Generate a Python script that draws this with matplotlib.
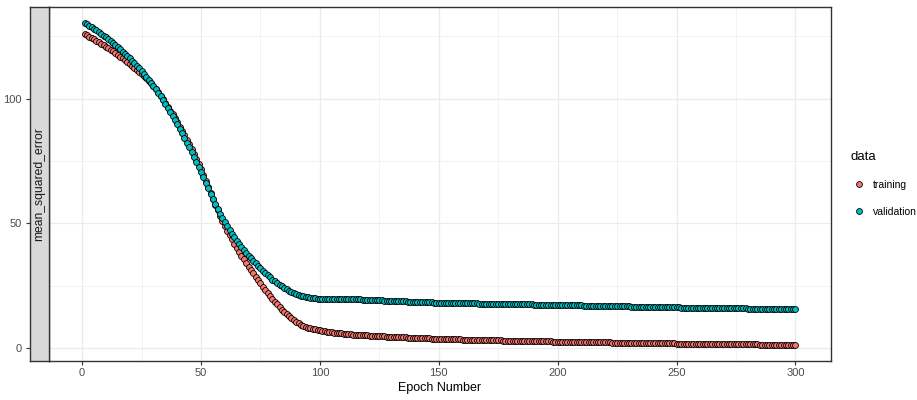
import numpy as np
import matplotlib.pyplot as plt
from matplotlib.lines import Line2D

plt.rcParams['font.family'] = ['Liberation Sans', 'DejaVu Sans']

# loss per epoch
epochs = np.arange(1, 301)

training = [
    125.85, 125.37, 124.9, 124.42, 123.95, 123.35, 122.75, 122.15, 121.55, 120.95,
    120.29, 119.63, 118.97, 118.31, 117.65, 116.91, 116.17, 115.43, 114.69, 113.95,
    113.17, 112.39, 111.61, 110.83, 110.05, 109.08, 108.12, 107.15, 106.15, 105.15,
    103.85, 102.55, 101.17, 99.78, 98.4, 96.83, 95.26, 93.69, 92.12, 90.55,
    88.78, 87.01, 85.24, 83.47, 81.7, 79.7, 77.7, 75.7, 73.65, 71.6,
    69.35, 67.05, 64.65, 62.25, 59.85, 57.5, 55.25, 53.05, 50.95, 48.9,
    47.05, 45.25, 43.5, 41.8, 40.15, 38.55, 37.0, 35.5, 34.05, 32.63,
    31.23, 29.85, 28.49, 27.15, 25.83, 24.53, 23.25, 22.0, 20.78, 19.6,
    18.48, 17.4, 16.36, 15.36, 14.41, 13.51, 12.66, 11.87, 11.14, 10.47,
    9.87, 9.34, 8.88, 8.48, 8.14, 7.85, 7.6, 7.38, 7.18, 7.0,
    6.84, 6.69, 6.54, 6.4, 6.26, 6.13, 6.0, 5.88, 5.76, 5.65,
    5.57, 5.49, 5.41, 5.34, 5.27, 5.2, 5.13, 5.07, 5.01, 4.95,
    4.9, 4.85, 4.8, 4.75, 4.71, 4.65, 4.6, 4.54, 4.49, 4.44,
    4.39, 4.34, 4.29, 4.24, 4.2, 4.15, 4.11, 4.07, 4.03, 3.99,
    3.95, 3.91, 3.87, 3.83, 3.8, 3.76, 3.73, 3.69, 3.66, 3.62,
    3.59, 3.56, 3.53, 3.5, 3.47, 3.44, 3.41, 3.39, 3.36, 3.33,
    3.3, 3.28, 3.25, 3.23, 3.2, 3.18, 3.15, 3.13, 3.11, 3.08,
    3.06, 3.04, 3.02, 3.0, 2.97, 2.95, 2.93, 2.91, 2.89, 2.87,
    2.85, 2.83, 2.81, 2.79, 2.77, 2.75, 2.73, 2.71, 2.69, 2.67,
    2.65, 2.64, 2.62, 2.6, 2.58, 2.56, 2.55, 2.53, 2.51, 2.5,
    2.48, 2.46, 2.45, 2.43, 2.41, 2.4, 2.38, 2.36, 2.35, 2.33,
    2.31, 2.3, 2.28, 2.27, 2.25, 2.23, 2.22, 2.2, 2.19, 2.17,
    2.16, 2.14, 2.13, 2.11, 2.1, 2.08, 2.07, 2.05, 2.04, 2.02,
    2.01, 1.99, 1.98, 1.96, 1.95, 1.93, 1.92, 1.9, 1.89, 1.87,
    1.86, 1.84, 1.83, 1.81, 1.8, 1.78, 1.77, 1.75, 1.74, 1.72,
    1.71, 1.7, 1.69, 1.68, 1.66, 1.65, 1.64, 1.63, 1.62, 1.61,
    1.6, 1.58, 1.57, 1.56, 1.55, 1.54, 1.53, 1.52, 1.5, 1.49,
    1.48, 1.47, 1.46, 1.45, 1.44, 1.43, 1.41, 1.4, 1.39, 1.38,
    1.37, 1.36, 1.35, 1.34, 1.33, 1.31, 1.3, 1.29, 1.28, 1.27,
    1.26, 1.25, 1.24, 1.23, 1.22, 1.21, 1.2, 1.19, 1.18, 1.17,
]

validation = [
    130.35, 129.8, 129.25, 128.7, 128.15, 127.45, 126.75, 126.05, 125.35, 124.65,
    123.85, 123.05, 122.25, 121.45, 120.65, 119.75, 118.85, 117.95, 117.05, 116.15,
    115.17, 114.19, 113.21, 112.23, 111.25, 110.05, 108.85, 107.65, 106.45, 105.25,
    103.8, 102.35, 100.9, 99.45, 98.0, 96.35, 94.7, 93.05, 91.4, 89.75,
    87.9, 86.05, 84.2, 82.35, 80.5, 78.5, 76.5, 74.5, 72.5, 70.5,
    68.4, 66.25, 64.05, 61.85, 59.7, 57.65, 55.7, 53.85, 52.1, 50.45,
    48.85, 47.3, 45.8, 44.38, 43.03, 41.73, 40.48, 39.28, 38.13, 37.03,
    35.96, 34.91, 33.88, 32.88, 31.9, 30.95, 30.03, 29.13, 28.25, 27.39,
    26.67, 25.97, 25.29, 24.63, 24.01, 23.43, 22.89, 22.39, 21.94, 21.54,
    21.18, 20.87, 20.61, 20.39, 20.21, 20.06, 19.94, 19.85, 19.79, 19.75,
    19.73, 19.72, 19.71, 19.71, 19.71, 19.71, 19.70, 19.69, 19.68, 19.66,
    19.63, 19.6, 19.56, 19.52, 19.48, 19.44, 19.4, 19.36, 19.32, 19.28,
    19.24, 19.2, 19.15, 19.1, 19.05, 19.0, 18.96, 18.93, 18.89, 18.85,
    18.81, 18.78, 18.74, 18.70, 18.66, 18.63, 18.59, 18.55, 18.51, 18.48,
    18.44, 18.40, 18.36, 18.33, 18.29, 18.25, 18.21, 18.18, 18.14, 18.10,
    18.08, 18.06, 18.05, 18.03, 18.01, 17.99, 17.97, 17.96, 17.94, 17.92,
    17.90, 17.88, 17.87, 17.85, 17.83, 17.81, 17.79, 17.78, 17.76, 17.74,
    17.72, 17.70, 17.69, 17.67, 17.65, 17.63, 17.61, 17.60, 17.58, 17.56,
    17.54, 17.52, 17.51, 17.49, 17.47, 17.45, 17.43, 17.42, 17.40, 17.38,
    17.36, 17.34, 17.33, 17.31, 17.29, 17.27, 17.25, 17.24, 17.22, 17.20,
    17.18, 17.16, 17.14, 17.12, 17.10, 17.08, 17.06, 17.04, 17.02, 17.00,
    16.98, 16.96, 16.94, 16.92, 16.90, 16.88, 16.86, 16.84, 16.82, 16.80,
    16.78, 16.76, 16.74, 16.72, 16.70, 16.68, 16.66, 16.64, 16.62, 16.60,
    16.58, 16.56, 16.54, 16.52, 16.50, 16.48, 16.46, 16.44, 16.42, 16.40,
    16.38, 16.36, 16.34, 16.32, 16.30, 16.28, 16.26, 16.24, 16.22, 16.20,
    16.19, 16.17, 16.16, 16.14, 16.13, 16.12, 16.10, 16.09, 16.07, 16.06,
    16.05, 16.03, 16.02, 16.00, 15.99, 15.98, 15.96, 15.95, 15.93, 15.92,
    15.91, 15.89, 15.88, 15.86, 15.85, 15.84, 15.82, 15.81, 15.79, 15.78,
    15.77, 15.75, 15.74, 15.72, 15.71, 15.70, 15.68, 15.67, 15.65, 15.64,
    15.63, 15.61, 15.60, 15.58, 15.57, 15.56, 15.54, 15.53, 15.51, 15.50,
]

series_names = ['training', 'validation']
series_colors = ['#F8766D', '#00BFC4']
x_ticks = [0, 50, 100, 150, 200, 250, 300]
y_ticks = [0, 50, 100]

W, H = 917, 400
fig = plt.figure(figsize=(W / 100, H / 100), dpi=100)
ax = fig.add_axes([49 / W, 39 / H, 782 / W, 354 / H])
strip = fig.add_axes([30 / W, 39 / H, 19 / W, 354 / H], sharey=ax)

# points, training first so validation sits on top
for vals, name, col in zip([training, validation], series_names, series_colors):
    ax.scatter(epochs, vals, s=18, facecolor=col, edgecolor='black',
               linewidth=0.6, zorder=3, label=name)

# ggplot-like 5% expansion
all_vals = np.concatenate([training, validation])
xr = epochs.max() - epochs.min()
yr = all_vals.max() - all_vals.min()
ax.set_xlim(epochs.min() - 0.05 * xr, epochs.max() + 0.05 * xr)
ax.set_ylim(all_vals.min() - 0.05 * yr, all_vals.max() + 0.05 * yr)

ax.set_xticks(x_ticks)
ax.set_xticks([25, 75, 125, 175, 225, 275], minor=True)
ax.set_yticks(y_ticks)
ax.set_yticks([25, 75, 125], minor=True)
ax.grid(which='major', color='#EBEBEB', linewidth=0.9)
ax.grid(which='minor', color='#EBEBEB', linewidth=0.45)
ax.set_axisbelow(True)
for sp in ax.spines.values():
    sp.set_color('#333333')
    sp.set_linewidth(1.0)

ax.tick_params(axis='x', which='major', length=3, width=0.8, color='#333333',
               labelcolor='#4D4D4D', labelsize=8, pad=2)
ax.tick_params(which='minor', length=0)
ax.tick_params(axis='y', which='both', left=False, labelleft=False)
ax.set_xlabel('Epoch Number', fontsize=9, color='black', labelpad=3)

# facet strip on the left
strip.set_facecolor('#D9D9D9')
strip.set_xticks([])
strip.tick_params(axis='y', which='major', length=3, width=0.8, color='#333333',
                  labelcolor='#4D4D4D', labelsize=8, pad=3)
strip.tick_params(axis='y', which='minor', length=0)
for sp in strip.spines.values():
    sp.set_color('#333333')
    sp.set_linewidth(1.0)
strip.text(0.5, 0.5, 'mean_squared_error', transform=strip.transAxes,
           rotation=90, ha='center', va='center', fontsize=8.7, color='#1A1A1A')

handles = [Line2D([], [], marker='o', linestyle='', markerfacecolor=c,
                  markeredgecolor='black', markeredgewidth=0.6, markersize=4.2)
           for c in series_colors]
fig.legend(handles, series_names, title='data', loc='upper left',
           bbox_to_anchor=(841 / W, 1 - 142 / H), frameon=False,
           fontsize=7.5, title_fontsize=9.5, handlelength=1.7,
           handletextpad=0.5, labelspacing=1.6, alignment='left')

fig.savefig('out.png', dpi=100)
